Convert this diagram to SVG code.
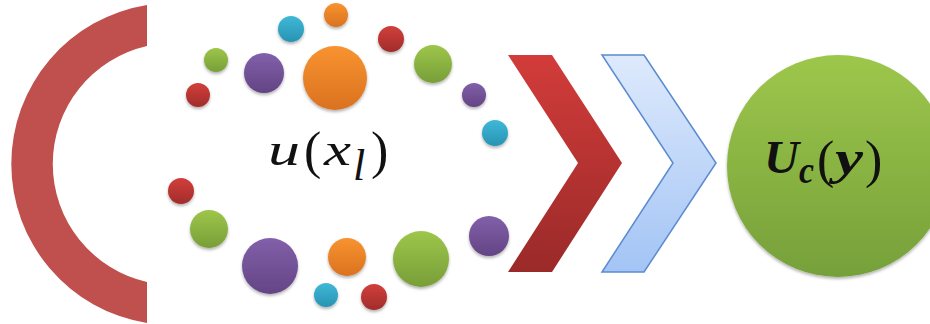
<svg xmlns="http://www.w3.org/2000/svg" width="930" height="324" viewBox="0 0 930 324">
<defs>
<linearGradient id="gRed" x1="0" y1="0" x2="0" y2="1"><stop offset="0" stop-color="#D23F3B"/><stop offset="1" stop-color="#A12C2B"/></linearGradient>
<linearGradient id="gGreen" x1="0" y1="0" x2="0" y2="1"><stop offset="0" stop-color="#9DC64A"/><stop offset="1" stop-color="#789E38"/></linearGradient>
<linearGradient id="gPurple" x1="0" y1="0" x2="0" y2="1"><stop offset="0" stop-color="#8260AA"/><stop offset="1" stop-color="#634484"/></linearGradient>
<linearGradient id="gOrange" x1="0" y1="0" x2="0" y2="1"><stop offset="0" stop-color="#F89330"/><stop offset="1" stop-color="#DA721F"/></linearGradient>
<linearGradient id="gCyan" x1="0" y1="0" x2="0" y2="1"><stop offset="0" stop-color="#40B8D8"/><stop offset="1" stop-color="#2893B2"/></linearGradient>
<linearGradient id="gChevRed" x1="0" y1="0" x2="0" y2="1"><stop offset="0" stop-color="#D23C3A"/><stop offset="1" stop-color="#9A2A29"/></linearGradient>
<linearGradient id="gChevBlue" x1="0" y1="0" x2="0" y2="1"><stop offset="0" stop-color="#DEEAFC"/><stop offset="1" stop-color="#A3C4F5"/></linearGradient>
<linearGradient id="gBall" x1="0" y1="0" x2="0" y2="1"><stop offset="0" stop-color="#9DC74B"/><stop offset="1" stop-color="#76A03A"/></linearGradient>
<filter id="sh" x="-30%" y="-30%" width="160%" height="170%"><feDropShadow dx="0" dy="2" stdDeviation="1.5" flood-color="#000" flood-opacity="0.3"/></filter>
</defs>
<style>
.r{fill:url(#gRed);filter:url(#sh)}
.g{fill:url(#gGreen);filter:url(#sh)}
.p{fill:url(#gPurple);filter:url(#sh)}
.o{fill:url(#gOrange);filter:url(#sh)}
.c{fill:url(#gCyan);filter:url(#sh)}
.math{font-family:"Liberation Serif","DejaVu Serif",serif;font-size:46px;fill:#111}
.par{font-size:52px}
.it{font-style:italic}
.bi{font-style:italic;font-weight:bold}
</style>
<rect width="930" height="324" fill="#FFFFFF"/>
<g id="arc">
<path d="M147,5 A161,161 0 0 0 147,323 L147,282 A121,121 0 0 1 147,46 Z" fill="#C0504D"/>
</g>
<g id="dots">
<circle class="c" cx="291" cy="29" r="13"/>
<circle class="o" cx="336" cy="15" r="12"/>
<circle class="g" cx="216" cy="60" r="12"/>
<circle class="p" cx="264" cy="73" r="20"/>
<circle class="o" cx="335" cy="78" r="32"/>
<circle class="r" cx="391" cy="39" r="13"/>
<circle class="g" cx="433" cy="64" r="19"/>
<circle class="r" cx="198" cy="95" r="12"/>
<circle class="p" cx="474" cy="95" r="12"/>
<circle class="c" cx="495" cy="133" r="13"/>
<circle class="r" cx="181" cy="191" r="13"/>
<circle class="g" cx="209" cy="229" r="19"/>
<circle class="p" cx="270" cy="266" r="28"/>
<circle class="o" cx="347" cy="257" r="19"/>
<circle class="g" cx="421" cy="259" r="28"/>
<circle class="p" cx="489" cy="236" r="20"/>
<circle class="c" cx="326" cy="295" r="12"/>
<circle class="r" cx="374" cy="297" r="13"/>
</g>
<g id="label-u">
<text class="math it" x="268" y="165" textLength="32" lengthAdjust="spacingAndGlyphs">u</text>
<text class="math par" x="304" y="168">(</text>
<text class="math it" x="324" y="165" textLength="27" lengthAdjust="spacingAndGlyphs">x</text>
<text class="math it" x="353" y="180" style="font-size:44px">l</text>
<text class="math par" x="371" y="168">)</text>
</g>
<g id="connectors">
<path d="M508,55 L552,55 L622,163 L552,272 L508,272 L578,163 Z" fill="url(#gChevRed)"/>
<path d="M602,55 L644,55 L716,163 L644,272 L602,272 L673,163 Z" fill="url(#gChevBlue)" stroke="#5A8AD0" stroke-width="1.5" stroke-linejoin="miter"/>
</g>
<g id="result">
<circle cx="838" cy="166" r="111" fill="url(#gBall)" filter="url(#sh)"/>
<text class="math bi" x="764" y="173" textLength="35" lengthAdjust="spacingAndGlyphs">U</text>
<text class="math bi" x="799" y="183" style="font-size:38px" textLength="15" lengthAdjust="spacingAndGlyphs">c</text>
<text class="math par" x="817" y="177">(</text>
<text class="math bi" x="835" y="174" style="font-size:48px" textLength="28" lengthAdjust="spacingAndGlyphs">y</text>
<text class="math par" x="865" y="177">)</text>
</g>
</svg>
